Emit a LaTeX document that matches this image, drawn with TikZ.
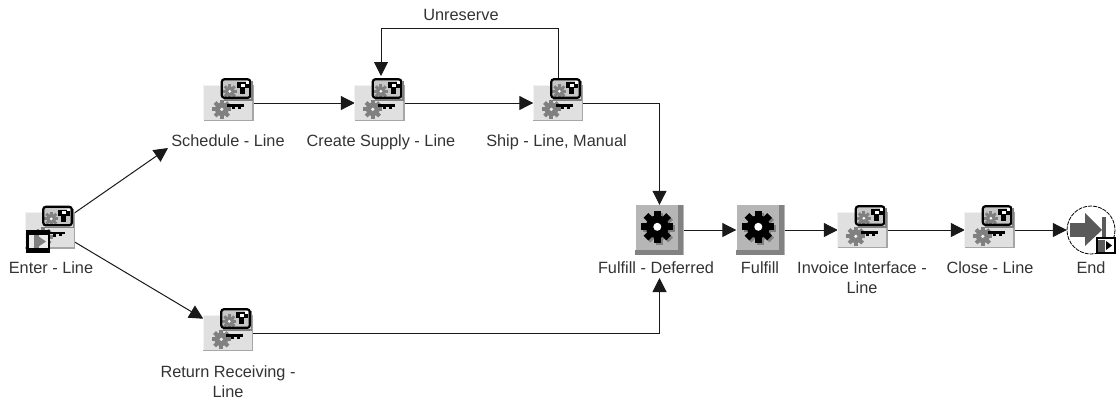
\documentclass[tikz,border=0pt]{standalone}
\usepackage{fontspec}
\setmainfont{Liberation Sans}
\usetikzlibrary{arrows.meta}
\definecolor{boxfill}{HTML}{E0E0E0}
\definecolor{boxedge}{HTML}{A6A6A6}
\definecolor{boxlight}{HTML}{F2F2F2}
\definecolor{deffill}{HTML}{B6B6B6}
\definecolor{defdark}{HTML}{828282}
\definecolor{gearg}{HTML}{808080}
\definecolor{endg}{HTML}{5A5A5A}
\newcommand{\cogwheel}[4]{%
  \fill[#4] (#1,#2) circle ({0.72*#3});
  \foreach \aa in {0,45,...,315}{
    \fill[#4,shift={(#1,#2)},rotate=\aa] ({-0.21*#3},0) rectangle ({0.21*#3},{#3});
  }
}
\tikzset{
  x=1pt,y=-1pt,
  funcbox/.style={rectangle,inner sep=0pt,minimum width=49pt,minimum height=35pt,fill=boxfill},
  defbox/.style={rectangle,inner sep=0pt,minimum width=48pt,minimum height=50pt,fill=deffill},
  endnode/.style={circle,inner sep=0pt,minimum size=48pt,fill=white},
  lbl/.style={anchor=base,inner sep=0pt,align=center,font=\fontsize{16.3}{20}\selectfont,text=black!80},
  conn/.style={line width=1pt,black!90,-{Triangle[length=14pt,width=14pt]}},
  funcicon/.pic={
    \draw[boxlight,line width=1pt] (0,35) -- (0,0) -- (49,0);
    \draw[boxedge,line width=1.5pt] (49,0) -- (49,35) -- (0,35);
    \cogwheel{18}{24}{9.5}{gearg}
    \fill[white!90!gray] (18,24) circle (1.8);
    \fill[black] (23,19) rectangle (40,21.5);
    \fill[black] (28,21.5) rectangle (31,24);
    \fill[black] (34,21.5) rectangle (37,23.5);
    \fill[gearg] (20,14) rectangle (49,15.5);
    \fill[white!55!gray] (18,-6) rectangle (46,12);
    \cogwheel{26}{6}{7}{gearg}
    \fill[white] (26,6) circle (1.5);
    \fill[black] (33,-3) rectangle (45,3);
    \fill[black] (36,3) rectangle (41,9);
    \fill[white] (37,-1.5) rectangle (41,1.5);
    \fill[white] (42,-4) rectangle (45,-1.5);
    \draw[black,line width=2.2pt,rounded corners=2.5pt] (18,-6) rectangle (46.5,12.5);
    \draw[gearg,line width=1.5pt] (48,-4) -- (48,14);
  },
  defgear/.pic={
    \fill[defdark] (43,0) rectangle (48,50);
    \fill[defdark] (0,45) rectangle (48,50);
    \cogwheel{24}{24}{16}{gearg}
    \cogwheel{22}{22}{16}{black}
    \fill[white] (22,22) circle (4);
  }
}
\begin{document}
\begin{tikzpicture}
\useasboundingbox (0,0) rectangle (1118,400);
% function nodes
\node[funcbox] (enter) at (50,230.5) {};
\node[funcbox] (sched) at (228.5,103) {};
\node[funcbox] (create) at (379.5,103) {};
\node[funcbox] (ship) at (558,103) {};
\node[funcbox] (ret) at (228,333) {};
\node[defbox] (fd) at (659.5,230) {};
\node[defbox] (ful) at (760.5,230) {};
\node[funcbox] (inv) at (862.5,230) {};
\node[funcbox] (clo) at (989.5,230) {};
\node[endnode] (endn) at (1091,230) {};
% labels
\node[lbl] (lenter) at (51,273) {Enter - Line};
\node[lbl] (lsched) at (228,146) {Schedule - Line};
\node[lbl] (lcreate) at (381,146) {Create Supply - Line};
\node[lbl] (lship) at (556.5,146) {Ship - Line, Manual};
\node[lbl] (lunres) at (461,20) {Unreserve};
\node[lbl] (lret) at (228,397) {Return Receiving -\\Line};
\node[lbl] (lfd) at (656,273) {Fulfill - Deferred};
\node[lbl] (lful) at (760,273) {Fulfill};
\node[lbl] (linv) at (862,293) {Invoice Interface -\\Line};
\node[lbl] (lclo) at (990,273) {Close - Line};
\node[lbl] (lend) at (1091,273) {End};
% free ends
\coordinate (schedTip) at (168,148);
\coordinate (fdTip) at (659.5,278);
\coordinate (uL) at (381,28);
\coordinate (createTop) at (381,76);
% connectors
\draw[conn] (enter.north east) -- (schedTip);
\draw[conn] (enter.-25) -- (ret.150);
\draw[conn] (sched.east) -- (create.west);
\draw[conn] (create.east) -- (ship.west);
\draw[conn] (ship.north) |- (uL) -- (createTop);
\draw[conn] (ship.east) -| (fd.north);
\draw[conn] (ret.east) -| (fdTip);
\draw[conn] (fd.east) -- (ful.west);
\draw[conn] (ful.east) -- (inv.west);
\draw[conn] (inv.east) -- (clo.west);
\draw[conn] (clo.east) -- (endn.west);
% icons
\foreach \n in {enter,sched,create,ship,ret,inv,clo}{
  \pic at (\n.north west) {funcicon};
}
\pic at (fd.north west) {defgear};
\pic at (ful.north west) {defgear};
% small monitor of the start activity
\fill[black] (26,230) rectangle (50,253);
\fill[white!85!gray] (28.5,235) rectangle (47.5,248);
\fill[gearg] (34,235) rectangle (39,248);
\fill[gearg] (38,236) -- (46,241.5) -- (38,247) -- cycle;
% end icon
\draw[black,line width=0.8pt,dash pattern=on 4pt off 1pt] (endn) circle (24);
\fill[endg] (1070,223) rectangle (1087,237);
\fill[endg] (1085,213) -- (1102,230) -- (1085,246) -- cycle;
\fill[endg] (1102,217) rectangle (1106,240);
\fill[white] (1097,238) rectangle (1115,253);
\draw[black,line width=1.5pt] (1097,238) rectangle (1115,253);
\fill[endg] (1098,240) rectangle (1105,252);
\fill[black] (1106,241) -- (1112,245.5) -- (1106,250) -- cycle;
\end{tikzpicture}
\end{document}
